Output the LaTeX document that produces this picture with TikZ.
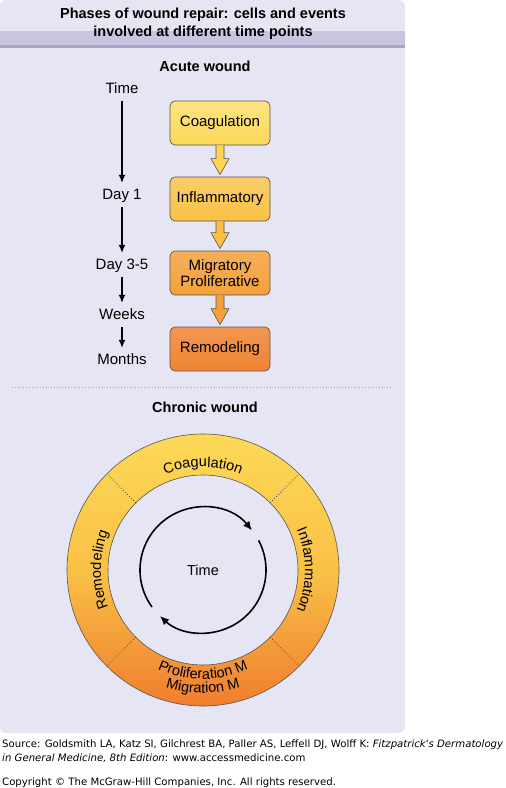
\documentclass[tikz,border=0pt]{standalone}
\usepackage{fontspec}
\setmainfont{Liberation Sans}
\newfontfamily\footfont{DejaVu Sans}
\usetikzlibrary{calc,arrows.meta,decorations.text}

\definecolor{panel}{HTML}{E6E5F3}
\definecolor{band}{HTML}{C8C6DE}
\definecolor{bandline}{HTML}{A8A5C6}
\definecolor{coag}{HTML}{FDD958}
\definecolor{infl}{HTML}{F9C146}
\definecolor{migr}{HTML}{F4A13C}
\definecolor{remod}{HTML}{EF8432}
\definecolor{edge}{HTML}{5A5550}

\newcommand{\ringfont}{\fontsize{14.5}{16}\selectfont}
\newcommand{\blockarrow}[3]{%
\fill[#3] ($(#1.south)+(-4,0)$) -- ($(#2.north)+(-4,-18)$) -- ($(#2.north)+(-9,-18)$) -- ($(#2.north)+(0,-2)$) -- ($(#2.north)+(9,-18)$) -- ($(#2.north)+(4,-18)$) -- ($(#1.south)+(4,0)$) -- cycle;
\draw[edge, line width=0.6pt, line join=round] ($(#1.south)+(-4,0)$) -- ($(#2.north)+(-4,-18)$) -- ($(#2.north)+(-9,-18)$) -- ($(#2.north)+(0,-2)$) -- ($(#2.north)+(9,-18)$) -- ($(#2.north)+(4,-18)$) -- ($(#1.south)+(4,0)$);
}

\begin{document}
\begin{tikzpicture}[x=1pt, y=-1pt,
  phase/.style={draw=edge, line width=0.7pt, rounded corners=5pt, minimum width=100pt, minimum height=44pt, align=center, font=\fontsize{15}{18}\selectfont},
  tlabel/.style={inner sep=0pt, text height=11pt, text depth=3pt, font=\fontsize{15}{18}\selectfont},
  heading/.style={font=\bfseries\fontsize{14.5}{18}\selectfont},
  tarrow/.style={line width=1.3pt, -{Latex[length=8pt, width=7pt]}, shorten <=5pt, shorten >=5pt}]
\useasboundingbox (0,0) rectangle (506,788);

% panel
\fill[panel, rounded corners=6pt] (0,0) rectangle (405,733);
\fill[band] (0,31) rectangle (405,45);
\fill[bandline] (0,45) rectangle (405,48);
\node[heading, align=center] (title) at (203,24) {Phases of wound repair: cells and events\\involved at different time points};

% acute wound
\node[heading] (acute) at (205,66) {Acute wound};

\node[tlabel] (time) at (122,89) {Time};
\node[tlabel] (day1) at (122,195) {Day 1};
\node[tlabel] (day35) at (122,265) {Day 3-5};
\node[tlabel] (weeks) at (122,315) {Weeks};
\node[tlabel] (months) at (122,360) {Months};

\draw[tarrow] (time) -- (day1);
\draw[tarrow] (day1) -- (day35);
\draw[tarrow] (day35) -- (weeks);
\draw[tarrow] (weeks) -- (months);

\node[phase, top color=coag!75!white, bottom color=coag] (coag) at (220,123) {Coagulation};
\node[phase, top color=infl!80!white, bottom color=infl] (infl) at (220,199) {Inflammatory};
\node[phase, top color=migr!85!white, bottom color=migr] (migr) at (220,273) {Migratory\\[-2pt]Proliferative};
\node[phase, top color=remod!85!white, bottom color=remod] (remod) at (220,349) {Remodeling};

\blockarrow{coag}{infl}{coag!95!orange}
\blockarrow{infl}{migr}{infl!95!orange}
\blockarrow{migr}{remod}{migr}

\draw[gray!70, dotted, line width=0.8pt] (12,387) -- (392,387);

% chronic wound
\node[heading] (chronic) at (205,407) {Chronic wound};

\coordinate (C) at (203,570);
\begin{scope}[shift={(C)}]
\shade[top color=coag, bottom color=remod!95!red, middle color=infl, even odd rule] (0,0) circle (136pt) (0,0) circle (95pt);
\draw[edge, line width=0.6pt] (0,0) circle (136pt);
\draw[edge, line width=0.6pt] (0,0) circle (95pt);
\foreach \a in {45,135,225,315}
  \draw[edge, dotted, line width=0.9pt] (\a:95pt) -- (\a:136pt);

\path[decorate, decoration={text along path, text align=center, text={|\ringfont|Coagulation}}] (150:103pt) arc[start angle=150, end angle=30, radius=103pt];
\path[decorate, decoration={text along path, text align=center, text={|\ringfont|Inflammation}}] (40:102pt) arc[start angle=40, end angle=-40, radius=102pt];
\path[decorate, decoration={text along path, text align=center, text={|\ringfont|Remodeling}}] (220:102pt) arc[start angle=220, end angle=140, radius=102pt];
\path[decorate, decoration={text along path, text align=center, text={|\ringfont|Proliferation M}}] (235:109pt) arc[start angle=235, end angle=305, radius=109pt];
\path[decorate, decoration={text along path, text align=center, text={|\ringfont|Migration M}}] (240:123pt) arc[start angle=240, end angle=300, radius=123pt];

\draw[line width=1.6pt, -{Latex[length=9pt, width=8pt]}] (216:63pt) arc[start angle=216, end angle=39, radius=63pt];
\draw[line width=1.6pt, -{Latex[length=9pt, width=8pt]}] (28:63pt) arc[start angle=28, end angle=-133, radius=63pt];
\node[font=\ringfont] (timec) at (0,0) {Time};
\end{scope}

% source
\node[anchor=base west, inner sep=0pt, font=\footfont\fontsize{10.15}{12}\selectfont] (src1) at (2,747) {Source: Goldsmith LA, Katz SI, Gilchrest BA, Paller AS, Leffell DJ, Wolff K: \textit{Fitzpatrick's Dermatology}};
\node[anchor=base west, inner sep=0pt, font=\footfont\fontsize{10.15}{12}\selectfont] (src2) at (2,761) {\textit{in General Medicine, 8th Edition}: www.accessmedicine.com};
\node[anchor=base west, inner sep=0pt, font=\footfont\fontsize{10.15}{12}\selectfont] (copy) at (2,785) {Copyright © The McGraw-Hill Companies, Inc. All rights reserved.};
\end{tikzpicture}
\end{document}
